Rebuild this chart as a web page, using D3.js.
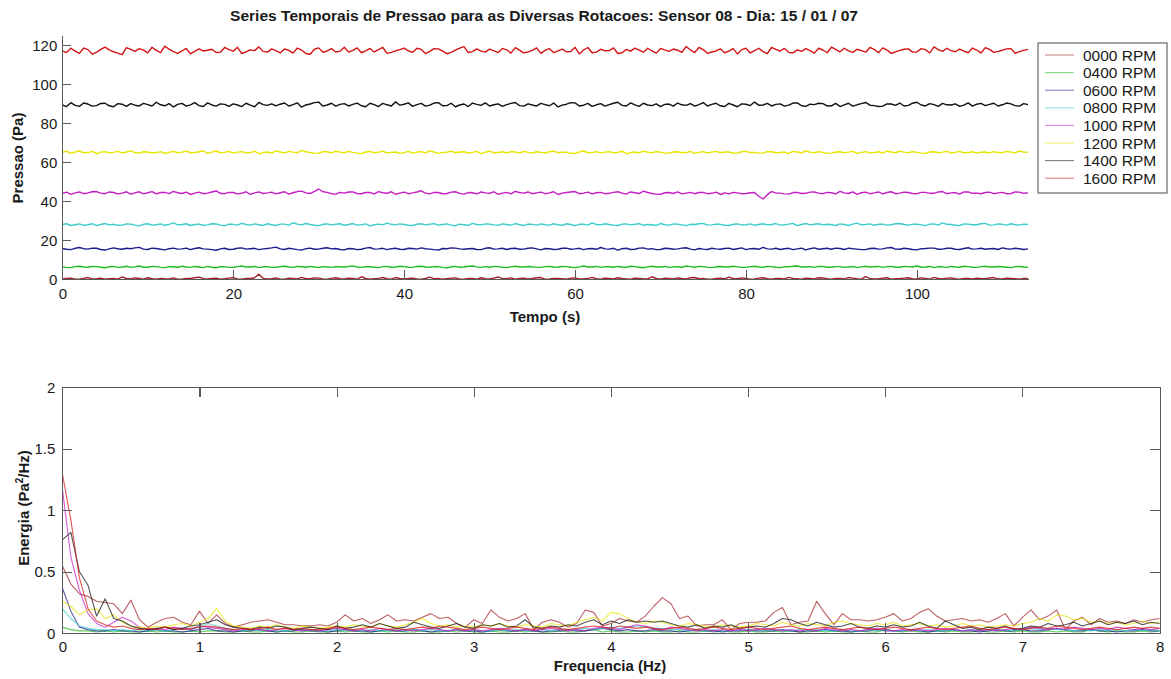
<!DOCTYPE html>
<html>
<head>
<meta charset="utf-8">
<script src="https://cdn.jsdelivr.net/npm/d3@7"></script>
<style>
  html, body { margin: 0; padding: 0; background: #fff; }
  svg { display: block; font-family: "Liberation Sans", Arial, sans-serif; }
  .axis path, .axis line { stroke: #5a5a5a; stroke-width: 1.1; shape-rendering: crispEdges; }
  .axis text { fill: #1a1a1a; font-size: 15px; font-family: "Liberation Sans", Arial, sans-serif; }
</style>
</head>
<body>
<svg id="chart" width="1171" height="679"></svg>
<script>
// ---- rotations (legend labels) ----
const rotacoes = ["0000 RPM", "0400 RPM", "0600 RPM", "0800 RPM", "1000 RPM", "1200 RPM", "1400 RPM", "1600 RPM"];
const cores = ["#a3232a", "#22bb22", "#1c1c8c", "#3ccccc", "#c41ec4", "#e6e600", "#111111", "#d41414"];

// ---- pressure time series, two samples per second (Pa) ----
const dtTempo = 0.5;
const p0000 = [0.2,0.4,0.6,0.0,0.1,0.5,0.9,0.2,0.3,0.6,0.0,0.3,0.5,0.1,1.2,0.4,0.2,0.7,0.4,0.1,
0.8,0.3,0.1,0.5,0.3,0.2,0.7,0.1,0.0,0.4,0.5,0.8,1.1,0.3,0.2,0.5,0.6,0.1,0.3,0.6,
0.9,0.2,0.1,0.4,0.4,0.8,2.6,0.5,0.2,0.3,0.7,0.1,0.0,0.6,0.5,0.2,1.0,0.3,0.3,0.7,
0.6,0.2,0.1,0.5,0.8,0.3,0.2,0.6,0.4,0.1,1.3,0.4,0.0,0.3,0.5,0.9,0.3,0.1,0.9,0.4,
0.2,0.5,0.6,0.2,0.1,0.4,1.1,0.3,0.4,0.0,0.3,0.6,0.7,0.2,0.0,0.5,0.5,0.1,0.8,0.3,
0.2,0.6,1.2,0.3,0.3,0.7,0.1,0.4,0.6,0.2,0.4,0.8,0.9,0.1,0.2,0.5,0.5,0.3,0.0,0.6,
0.7,0.2,0.3,0.5,1.0,0.3,0.1,0.6,0.4,0.2,0.8,0.4,0.2,0.0,0.6,0.5,0.3,0.2,1.3,0.4,
0.1,0.6,0.5,0.2,0.7,0.4,0.2,0.8,0.9,0.3,0.4,0.1,0.0,0.5,0.6,0.2,1.1,0.4,0.3,0.7,
0.5,0.1,0.2,0.6,0.8,0.3,0.1,0.4,0.4,0.2,1.0,0.5,0.3,0.1,0.6,0.4,0.2,0.8,0.7,0.3,
0.0,0.4,0.5,0.2,0.9,0.6,0.3,0.1,1.4,0.5,0.2,0.3,0.6,0.8,0.1,0.3,0.4,0.6,0.8,0.2,
0.3,0.7,0.5,0.1,1.0,0.4,0.2,0.6,0.7,0.3,0.1,0.5,0.4,0.2,0.6,0.4,0.3,0.7,0.9,0.2,
0.2,0.6,0.5,0.3,0.1,0.5,0.4];
const p0400 = [6.4,6.1,6.0,6.5,6.7,6.3,6.2,6.6,6.5,6.2,5.9,6.4,6.6,6.1,6.3,6.7,6.1,6.4,6.8,6.2,
6.2,6.6,6.5,6.1,6.0,6.5,6.4,6.2,6.7,6.3,6.1,6.6,6.3,6.0,6.6,6.2,5.9,6.5,6.4,6.1,
6.2,6.5,6.8,6.3,6.3,6.6,6.0,6.4,6.5,6.1,6.2,6.5,6.7,6.3,6.1,6.6,6.4,6.2,6.6,6.3,
6.0,6.5,6.3,6.1,6.5,6.4,6.2,6.6,6.9,6.3,6.1,6.5,6.4,6.2,6.0,6.5,6.6,6.2,6.3,6.7,
6.5,6.2,6.1,6.6,6.7,6.3,6.2,6.5,6.4,6.1,5.9,6.4,6.6,6.2,6.3,6.7,6.8,6.4,6.1,6.5,
6.2,6.6,6.5,6.2,6.0,6.4,6.7,6.3,6.3,6.6,6.4,6.1,6.1,6.5,6.6,6.3,6.2,6.6,6.5,6.2,
6.0,6.4,6.8,6.3,6.3,6.6,6.1,6.5,6.4,6.2,6.6,6.3,6.2,6.7,6.5,6.2,5.9,6.4,6.7,6.3,
6.3,6.6,6.1,6.4,6.4,6.2,6.8,6.5,6.2,6.6,6.5,6.1,6.0,6.4,6.6,6.3,6.3,6.7,6.4,6.1,
6.1,6.5,6.7,6.3,6.2,6.6,6.5,6.2,6.0,6.4,6.4,6.7,6.8,6.3,6.3,6.5,6.1,6.6,6.6,6.2,
6.2,6.5,6.5,6.1,6.3,6.6,6.0,6.4,6.7,6.3,6.4,6.6,6.1,6.5,6.6,6.2,6.2,6.6,6.5,6.3,
6.8,6.2,6.3,6.6,6.0,6.5,6.4,6.1,6.6,6.3,6.2,6.7,6.5,6.2,6.1,6.5,6.7,6.3,6.3,6.6,
6.4,6.2,6.0,6.5,6.6,6.3,6.2];
const p0600 = [15.8,15.4,15.2,15.9,16.3,15.7,15.5,16.0,15.9,15.3,15.0,15.6,16.1,15.7,15.4,15.9,15.7,16.1,16.4,15.5,
15.3,16.0,15.8,15.4,15.1,15.7,16.0,15.5,15.6,16.0,15.2,15.8,16.2,15.6,15.5,15.2,14.9,15.6,15.9,15.3,
15.4,15.9,16.1,15.5,15.7,15.9,15.2,15.6,15.8,16.1,16.5,15.6,15.3,15.9,15.6,15.2,15.0,15.7,16.0,15.4,
15.5,15.9,16.2,15.6,15.8,15.3,15.1,15.8,15.7,15.2,15.4,16.0,16.3,15.5,15.6,15.9,15.2,15.7,15.9,15.4,
15.3,15.9,15.8,15.5,16.1,15.7,15.5,15.2,15.0,15.8,15.7,16.1,16.0,15.6,15.4,15.7,15.8,15.3,15.2,15.9,
16.2,15.5,15.6,15.9,15.3,15.8,15.9,15.4,15.5,15.9,16.1,15.6,15.1,15.8,15.7,15.3,15.4,15.9,16.0,15.4,
15.6,15.9,15.2,15.7,15.8,15.4,16.3,15.6,15.5,15.9,15.0,15.7,15.9,15.3,15.4,16.0,16.1,15.5,15.7,15.2,
15.3,15.9,15.8,15.4,15.6,16.0,16.2,15.5,15.1,15.8,15.5,15.3,15.9,15.6,15.4,15.8,16.0,15.3,15.7,16.1,
15.2,15.7,15.8,15.4,16.4,15.6,15.5,15.9,15.3,15.7,15.9,15.2,15.6,16.0,15.1,15.7,16.1,15.4,15.7,15.9,
15.4,16.0,15.8,15.3,16.0,15.7,15.5,15.2,15.2,15.8,15.9,15.5,15.6,16.1,16.3,15.5,15.4,15.9,15.7,15.3,
15.1,15.7,15.8,16.0,16.0,15.4,15.5,15.9,15.9,15.4,15.3,15.8,16.2,15.5,15.6,15.9,15.4,15.7,15.8,15.3,
16.1,15.7,15.5,15.9,15.7,15.3,15.6];
const p0800 = [28.1,28.5,27.6,28.0,28.4,27.7,28.0,28.5,27.5,28.1,28.6,27.9,28.2,27.7,27.8,28.4,28.3,27.8,27.4,28.2,
28.5,27.8,28.0,28.4,27.7,28.2,28.9,27.9,28.1,28.5,27.6,28.1,28.3,27.7,27.9,28.5,28.4,27.8,27.5,28.3,
28.2,27.8,28.7,28.1,27.8,28.4,28.0,27.6,28.5,28.0,27.6,28.3,28.3,27.8,29.0,28.3,27.9,28.6,28.1,27.7,
27.5,28.2,28.4,27.9,28.2,28.5,27.7,28.1,28.6,27.8,28.0,28.4,27.4,28.0,28.3,27.9,28.8,28.2,27.9,28.4,
28.1,27.7,27.6,28.3,28.5,27.9,28.2,28.6,27.8,28.1,28.4,27.8,27.5,28.3,28.0,27.7,28.7,28.1,27.9,28.4,
28.3,27.9,27.7,28.4,28.1,27.8,28.6,28.0,27.6,28.3,28.2,27.8,28.4,28.0,27.8,28.5,28.0,27.7,28.5,28.1,
27.5,28.2,28.3,27.8,28.9,28.1,27.9,28.5,28.1,27.8,27.6,28.3,28.4,27.9,28.2,28.6,27.7,28.1,28.0,27.6,
28.6,28.0,27.8,28.4,28.3,27.9,27.5,28.2,28.1,28.5,28.7,27.8,27.9,28.3,28.2,27.7,27.6,28.2,28.4,27.9,
28.0,28.4,27.7,28.1,28.5,27.9,28.1,28.6,27.8,28.0,28.3,28.7,27.5,28.1,28.6,27.9,28.2,28.5,27.9,28.2,
28.0,27.6,28.4,28.1,27.6,28.3,28.8,27.9,28.1,28.4,27.7,28.2,28.3,27.8,28.0,28.5,28.6,28.1,27.8,28.3,
28.2,27.9,27.5,28.3,28.4,27.8,28.9,28.2,28.1,27.7,27.6,28.4,28.3,28.0,28.0,28.5,28.7,27.8,27.9,28.4,
28.2,27.8,28.5,28.0,27.8,28.3,28.1];
const p1000 = [44.1,44.7,43.6,44.3,44.8,43.9,44.3,44.9,45.0,44.2,43.9,44.8,44.5,43.8,44.2,44.9,43.7,44.3,44.9,43.8,
44.4,45.0,43.8,44.5,44.6,43.9,45.1,44.4,44.0,44.7,43.5,44.2,44.7,43.9,44.2,44.8,45.3,44.1,43.9,44.6,
44.5,43.8,44.1,44.9,43.6,44.3,44.8,44.0,44.3,44.7,43.8,44.4,44.9,43.7,44.4,45.0,45.2,44.3,44.0,45.1,
46.3,44.9,44.6,43.9,43.7,44.6,44.2,44.8,44.8,44.0,43.9,44.5,44.5,43.8,45.0,44.4,44.1,44.9,43.6,44.2,
44.7,43.9,44.3,44.8,45.4,44.2,43.8,44.6,44.5,43.9,44.0,44.7,44.9,44.1,43.7,44.5,44.4,43.8,44.8,44.3,
44.1,44.9,43.6,44.2,44.6,43.8,45.1,44.5,44.2,44.8,43.9,44.3,44.7,43.9,44.3,44.9,43.5,44.2,44.5,44.8,
45.0,43.9,44.2,44.7,43.8,44.4,44.6,43.9,44.1,44.6,44.9,44.2,43.7,44.8,44.4,44.0,45.2,44.5,44.0,43.7,
43.6,44.4,44.5,44.0,44.8,43.8,44.2,44.6,43.9,44.5,44.6,43.9,44.1,44.7,43.5,44.3,43.8,44.6,44.3,43.9,
44.0,44.4,44.5,42.6,41.2,43.4,45.0,44.3,44.2,43.8,43.7,44.5,44.6,44.0,44.1,44.7,44.8,44.2,43.9,44.6,
44.4,43.8,45.1,44.3,44.0,44.8,43.6,44.4,44.7,43.9,44.3,44.8,43.8,44.5,44.9,43.9,44.2,44.7,44.5,44.0,
43.9,44.6,44.6,44.1,44.1,44.8,45.0,43.9,44.3,44.5,43.7,44.8,44.8,44.1,44.2,43.9,44.5,44.7,43.9,44.3,
44.6,43.9,44.0,44.8,44.7,44.1,44.3];
const p1200 = [65.2,65.7,64.6,65.3,65.8,64.9,65.0,65.6,64.4,65.2,65.5,64.8,65.1,65.6,64.8,65.3,65.9,65.0,64.7,65.4,
65.3,64.8,65.0,65.5,64.5,65.1,65.6,64.9,65.2,65.7,64.9,65.0,65.4,65.8,64.6,65.2,65.8,64.9,65.1,65.6,
64.7,65.2,65.5,64.8,65.0,65.7,64.4,65.0,65.3,64.7,65.9,65.3,64.8,65.6,65.2,64.9,66.1,65.4,65.0,64.7,
64.6,65.5,65.4,64.8,65.7,65.2,64.9,65.6,65.1,64.7,64.5,65.3,65.6,64.9,65.2,65.7,64.8,65.1,65.3,64.6,
65.0,65.6,64.7,65.2,65.5,64.8,65.9,65.3,64.6,65.0,65.2,65.7,64.9,65.3,65.4,64.8,65.1,65.6,64.5,65.2,
65.7,64.9,65.0,65.4,64.8,65.5,65.3,64.7,65.6,65.1,64.7,65.4,65.1,64.8,65.4,65.7,64.9,65.2,65.2,64.6,
64.6,65.3,65.8,64.9,65.0,65.5,64.7,65.2,65.5,64.8,65.1,65.7,64.4,65.0,65.3,64.8,65.7,65.2,64.9,65.5,
65.2,64.7,64.8,65.3,65.4,64.9,65.0,65.6,64.6,65.1,65.5,64.8,65.2,65.6,64.9,65.3,65.3,64.7,64.7,65.4,
65.6,65.0,65.1,64.7,64.8,65.5,65.4,64.9,65.0,65.3,64.5,65.6,65.3,64.8,65.8,65.2,64.9,65.5,65.1,64.6,
64.7,65.3,65.4,64.9,65.2,65.6,64.6,65.1,65.5,64.8,65.0,65.4,64.8,65.7,65.3,64.9,65.7,65.2,64.9,65.5,
65.1,64.7,64.6,65.3,65.4,64.9,65.2,65.6,64.8,65.1,65.6,64.9,65.0,65.4,64.7,65.2,65.3,64.8,65.5,65.0,
64.9,65.6,65.2,64.8,65.8,65.3,65.1];
const p1400 = [89.4,88.6,90.6,89.2,88.7,90.4,89.9,88.8,89.1,90.2,90.3,89.0,88.5,90.1,89.8,88.7,90.1,89.3,88.9,90.2,
89.6,88.9,90.8,89.5,89.0,90.1,88.4,89.7,90.2,88.8,89.5,90.6,89.1,88.6,90.5,89.4,88.8,90.0,89.7,88.7,
90.0,89.4,88.6,90.3,89.3,88.5,90.7,89.6,89.2,90.0,88.9,89.8,90.4,88.9,89.6,90.5,88.3,89.4,89.9,90.6,
90.9,88.8,89.4,90.3,88.8,89.7,90.1,88.9,89.7,90.4,89.0,88.5,90.3,89.6,88.6,90.2,89.5,88.9,91.0,89.3,
89.8,90.5,88.7,89.6,90.2,88.8,89.3,90.4,90.6,89.0,89.1,90.3,88.5,89.4,89.9,88.6,90.4,89.7,89.2,90.5,
88.9,89.5,90.0,88.7,89.6,90.2,90.7,89.1,88.8,90.0,89.4,88.9,90.2,89.6,89.0,90.4,88.4,89.3,89.8,90.6,
90.5,88.9,89.3,90.2,88.7,89.5,90.1,88.8,89.6,90.3,90.8,89.2,88.9,90.5,89.5,88.7,90.3,89.4,89.1,90.0,
88.6,89.7,89.9,88.8,90.4,89.5,89.2,90.1,88.8,89.6,90.6,88.9,89.7,90.3,89.0,88.6,90.2,89.4,88.5,90.0,
89.8,89.1,90.9,89.3,89.4,90.2,88.9,89.7,90.0,88.8,89.3,90.4,90.5,89.0,88.7,89.8,89.6,90.3,90.1,88.9,
89.0,90.2,88.6,89.5,90.3,88.8,89.5,90.1,90.7,89.3,89.1,88.6,88.8,90.0,89.9,89.2,90.4,88.9,89.2,90.3,
90.8,89.4,88.9,90.1,89.6,88.7,90.2,89.5,89.4,90.0,88.7,89.3,90.5,88.8,89.8,90.2,89.1,89.7,90.3,88.9,
89.5,90.4,90.0,89.1,88.8,90.1,89.6];
const p1600 = [117.2,116.3,118.5,117.0,115.9,118.6,117.8,115.5,116.4,117.9,119.1,117.7,116.7,116.0,115.2,118.8,117.9,116.9,118.3,117.5,
116.1,119.0,117.4,116.2,119.6,118.0,116.8,115.9,117.1,118.4,115.6,116.9,118.2,117.1,117.5,118.0,116.3,116.5,118.9,117.8,
117.0,119.0,115.8,116.6,117.7,117.3,119.2,116.9,116.5,118.2,117.3,116.1,118.1,117.4,116.0,118.6,117.6,115.8,115.4,118.0,
118.7,116.4,117.1,118.3,116.6,117.0,119.0,116.5,117.4,118.7,116.2,117.2,118.4,116.6,117.8,118.9,115.9,116.4,117.2,117.8,
118.6,117.1,116.4,118.5,117.9,115.8,116.9,118.3,118.2,117.0,115.7,116.4,117.5,118.6,119.3,116.3,116.8,118.2,117.0,116.5,
118.1,117.2,116.3,118.4,117.7,116.0,118.8,117.5,116.1,116.6,117.4,118.7,115.9,117.4,118.3,116.3,117.2,118.1,116.7,116.8,
119.0,115.6,117.6,118.9,116.2,116.5,118.0,117.2,117.3,118.7,115.8,116.2,117.9,117.0,118.6,117.6,116.5,118.5,117.1,116.0,
118.4,117.7,116.9,118.1,117.5,116.4,119.4,117.6,116.3,118.9,117.8,115.9,116.6,117.1,118.2,116.2,117.0,118.3,115.6,117.8,
118.5,116.1,117.3,118.5,116.8,115.8,118.9,117.9,117.1,118.4,116.4,116.1,117.7,116.9,118.3,117.3,116.0,118.5,117.6,116.2,
119.1,117.9,116.7,118.5,117.2,116.4,118.0,117.3,116.5,118.9,117.9,116.2,118.7,117.6,115.9,116.6,117.4,118.0,118.2,116.5,
116.6,118.3,117.8,116.1,119.2,117.8,116.9,118.5,117.3,116.7,118.1,117.0,116.2,118.6,117.6,116.1,118.8,117.9,116.4,116.9,
117.5,118.2,118.3,115.9,116.8,117.4,117.9];

// ---- energy spectra, 1/16 Hz resolution (Pa^2/Hz) ----
const dfFreq = 0.0625;
const e0000 = [0.55,0.40,0.32,0.30,0.26,0.25,0.24,0.16,0.27,0.11,0.05,0.09,0.12,0.13,0.09,0.07,0.18,0.08,0.15,0.08,0.05,0.07,0.09,0.10,0.11,0.09,0.07,0.07,0.06,0.06,0.07,0.06,0.09,0.15,0.10,0.12,0.08,0.11,0.15,0.10,0.11,0.10,0.13,0.16,0.12,0.13,0.08,0.05,0.11,0.08,0.19,0.13,0.10,0.12,0.16,0.03,0.09,0.11,0.09,0.05,0.08,0.19,0.17,0.06,0.08,0.12,0.10,0.09,0.14,0.22,0.29,0.24,0.12,0.14,0.06,0.07,0.07,0.11,0.03,0.08,0.09,0.09,0.10,0.17,0.21,0.07,0.09,0.10,0.26,0.16,0.07,0.16,0.11,0.11,0.10,0.11,0.13,0.16,0.10,0.12,0.17,0.20,0.14,0.10,0.11,0.12,0.10,0.11,0.09,0.12,0.16,0.06,0.13,0.19,0.11,0.14,0.19,0.03,0.10,0.13,0.07,0.12,0.09,0.10,0.08,0.11,0.09,0.11,0.12];
const e0400 = [0.05,0.03,0.02,0.02,0.01,0.02,0.01,0.02,0.01,0.01,0.02,0.01,0.02,0.01,0.01,0.02,0.01,0.02,0.02,0.01,0.01,0.02,0.01,0.01,0.02,0.01,0.02,0.01,0.01,0.02,0.01,0.01,0.02,0.01,0.02,0.01,0.01,0.02,0.01,0.02,0.01,0.01,0.02,0.01,0.01,0.02,0.01,0.02,0.01,0.01,0.02,0.01,0.01,0.02,0.01,0.02,0.01,0.01,0.02,0.01,0.01,0.02,0.03,0.01,0.02,0.01,0.01,0.02,0.01,0.02,0.01,0.01,0.02,0.01,0.01,0.02,0.01,0.02,0.01,0.01,0.02,0.01,0.01,0.02,0.01,0.02,0.01,0.01,0.02,0.01,0.02,0.01,0.01,0.02,0.01,0.01,0.03,0.02,0.01,0.02,0.01,0.01,0.02,0.01,0.02,0.01,0.01,0.02,0.01,0.01,0.02,0.01,0.02,0.01,0.01,0.02,0.01,0.02,0.01,0.01,0.03,0.02,0.01,0.02,0.01,0.01,0.02,0.01,0.02];
const e0600 = [0.37,0.18,0.05,0.03,0.02,0.02,0.03,0.02,0.02,0.01,0.02,0.03,0.02,0.02,0.01,0.02,0.03,0.04,0.02,0.02,0.01,0.02,0.02,0.03,0.02,0.01,0.02,0.02,0.03,0.02,0.02,0.01,0.02,0.03,0.02,0.02,0.01,0.02,0.03,0.02,0.02,0.03,0.02,0.01,0.02,0.02,0.03,0.02,0.02,0.01,0.02,0.03,0.02,0.02,0.03,0.02,0.01,0.02,0.02,0.03,0.02,0.02,0.03,0.04,0.03,0.02,0.03,0.02,0.02,0.03,0.02,0.02,0.01,0.02,0.03,0.02,0.02,0.01,0.02,0.02,0.03,0.02,0.02,0.02,0.03,0.02,0.01,0.02,0.02,0.03,0.02,0.02,0.01,0.02,0.02,0.03,0.02,0.02,0.02,0.03,0.02,0.01,0.02,0.02,0.03,0.02,0.02,0.01,0.02,0.03,0.02,0.02,0.03,0.02,0.02,0.03,0.04,0.03,0.02,0.02,0.03,0.02,0.02,0.01,0.02,0.02,0.03,0.02,0.02];
const e0800 = [0.20,0.12,0.06,0.04,0.03,0.03,0.02,0.03,0.02,0.03,0.02,0.03,0.02,0.03,0.04,0.03,0.05,0.08,0.06,0.04,0.03,0.02,0.03,0.02,0.03,0.02,0.02,0.03,0.02,0.03,0.02,0.02,0.03,0.02,0.03,0.02,0.03,0.02,0.02,0.03,0.02,0.03,0.02,0.03,0.02,0.02,0.03,0.02,0.03,0.02,0.02,0.03,0.02,0.03,0.02,0.02,0.03,0.02,0.03,0.02,0.03,0.04,0.03,0.04,0.05,0.04,0.05,0.06,0.05,0.04,0.04,0.03,0.03,0.02,0.03,0.02,0.03,0.02,0.02,0.03,0.02,0.03,0.02,0.03,0.02,0.02,0.03,0.02,0.03,0.02,0.02,0.03,0.02,0.02,0.03,0.02,0.03,0.02,0.02,0.03,0.02,0.03,0.02,0.02,0.03,0.02,0.03,0.02,0.03,0.02,0.03,0.02,0.03,0.04,0.03,0.04,0.03,0.03,0.02,0.03,0.02,0.03,0.02,0.03,0.02,0.03,0.02,0.03,0.02];
const e1000 = [1.18,0.62,0.35,0.16,0.08,0.05,0.09,0.13,0.10,0.05,0.03,0.04,0.03,0.05,0.04,0.03,0.06,0.05,0.04,0.03,0.02,0.03,0.04,0.03,0.02,0.03,0.04,0.03,0.02,0.03,0.02,0.03,0.04,0.03,0.02,0.03,0.02,0.04,0.03,0.02,0.03,0.02,0.03,0.04,0.03,0.02,0.03,0.02,0.03,0.02,0.03,0.04,0.03,0.02,0.03,0.02,0.03,0.04,0.03,0.02,0.03,0.02,0.04,0.05,0.04,0.03,0.05,0.07,0.06,0.04,0.03,0.05,0.04,0.03,0.02,0.03,0.02,0.03,0.02,0.03,0.02,0.03,0.04,0.03,0.02,0.03,0.02,0.03,0.02,0.04,0.03,0.02,0.03,0.02,0.03,0.04,0.03,0.02,0.03,0.02,0.03,0.02,0.03,0.04,0.03,0.02,0.03,0.02,0.03,0.02,0.03,0.04,0.03,0.05,0.04,0.03,0.04,0.03,0.05,0.04,0.03,0.04,0.03,0.05,0.04,0.03,0.04,0.03,0.04];
const e1200 = [0.26,0.22,0.15,0.19,0.20,0.12,0.15,0.09,0.06,0.05,0.04,0.06,0.05,0.07,0.08,0.06,0.09,0.12,0.20,0.10,0.06,0.05,0.04,0.06,0.05,0.07,0.05,0.04,0.06,0.05,0.04,0.05,0.06,0.05,0.07,0.06,0.05,0.08,0.06,0.05,0.07,0.09,0.12,0.08,0.06,0.07,0.05,0.06,0.05,0.07,0.06,0.08,0.06,0.05,0.07,0.06,0.05,0.08,0.07,0.06,0.09,0.11,0.13,0.10,0.17,0.16,0.12,0.09,0.08,0.10,0.09,0.07,0.06,0.08,0.07,0.06,0.05,0.07,0.06,0.05,0.06,0.08,0.07,0.06,0.09,0.07,0.06,0.08,0.07,0.06,0.09,0.10,0.08,0.07,0.06,0.08,0.07,0.09,0.06,0.07,0.08,0.06,0.07,0.05,0.06,0.08,0.06,0.07,0.05,0.06,0.07,0.06,0.08,0.09,0.12,0.10,0.15,0.14,0.11,0.12,0.09,0.10,0.08,0.09,0.07,0.08,0.10,0.08,0.09];
const e1400 = [0.76,0.82,0.50,0.39,0.14,0.28,0.12,0.10,0.06,0.04,0.03,0.04,0.05,0.03,0.04,0.06,0.07,0.09,0.11,0.07,0.05,0.04,0.03,0.05,0.04,0.06,0.05,0.03,0.04,0.05,0.04,0.03,0.06,0.04,0.05,0.07,0.05,0.08,0.06,0.04,0.05,0.09,0.07,0.05,0.04,0.06,0.08,0.05,0.04,0.07,0.06,0.08,0.05,0.06,0.11,0.05,0.04,0.06,0.05,0.07,0.06,0.09,0.11,0.07,0.10,0.08,0.11,0.09,0.10,0.09,0.10,0.08,0.06,0.05,0.07,0.04,0.06,0.05,0.07,0.04,0.05,0.06,0.05,0.08,0.12,0.11,0.08,0.06,0.09,0.07,0.05,0.06,0.08,0.05,0.04,0.06,0.05,0.07,0.05,0.06,0.09,0.06,0.04,0.10,0.07,0.04,0.05,0.03,0.05,0.04,0.06,0.03,0.04,0.06,0.05,0.08,0.06,0.07,0.09,0.06,0.08,0.10,0.07,0.09,0.08,0.10,0.07,0.09,0.08];
const e1600 = [1.30,0.92,0.45,0.20,0.10,0.07,0.05,0.06,0.04,0.03,0.04,0.03,0.05,0.04,0.03,0.04,0.05,0.06,0.05,0.04,0.03,0.04,0.03,0.04,0.05,0.03,0.04,0.03,0.04,0.03,0.03,0.04,0.05,0.04,0.03,0.04,0.05,0.04,0.03,0.04,0.03,0.04,0.05,0.04,0.06,0.05,0.04,0.03,0.04,0.05,0.04,0.03,0.04,0.05,0.04,0.03,0.04,0.05,0.04,0.03,0.04,0.05,0.06,0.05,0.04,0.06,0.05,0.04,0.05,0.04,0.03,0.04,0.05,0.04,0.03,0.04,0.05,0.04,0.03,0.04,0.05,0.04,0.03,0.04,0.05,0.06,0.04,0.03,0.04,0.05,0.04,0.03,0.04,0.05,0.04,0.03,0.04,0.05,0.04,0.03,0.04,0.05,0.04,0.03,0.04,0.05,0.06,0.04,0.03,0.04,0.05,0.04,0.03,0.04,0.05,0.04,0.06,0.05,0.04,0.03,0.04,0.05,0.04,0.03,0.04,0.05,0.04,0.05,0.04];

// ---- axis ticks ----
const ticksPressao = [0, 20, 40, 60, 80, 100, 120];
const ticksTempo = [0, 20, 40, 60, 80, 100];
const ticksEnergia = [0, 0.5, 1, 1.5, 2];
const ticksFreq = [0, 1, 2, 3, 4, 5, 6, 7, 8];

const pressoes = [p0000, p0400, p0600, p0800, p1000, p1200, p1400, p1600];
const energias = [e0000, e0400, e0600, e0800, e1000, e1200, e1400, e1600];

const svg = d3.select("#chart");

// title
svg.append("text")
  .attr("x", 544).attr("y", 21)
  .attr("text-anchor", "middle")
  .attr("textLength", 628).attr("lengthAdjust", "spacingAndGlyphs")
  .style("font-size", "14px").style("font-weight", "bold").style("fill", "#1a1a1a")
  .text("Series Temporais de Pressao para as Diversas Rotacoes: Sensor 08 - Dia: 15 / 01 / 07");

// ===== upper panel: pressure vs time =====
const xT = d3.scaleLinear().domain([0, 113]).range([62.3, 1028]);
const yP = d3.scaleLinear().domain([0, 125.3]).range([279.3, 35]);

const gTop = svg.append("g");
const linhaP = d3.line()
  .x((d, i) => xT(i * dtTempo))
  .y(d => yP(d));

gTop.selectAll("path.serie")
  .data(pressoes)
  .join("path")
  .attr("class", "serie")
  .attr("d", d => linhaP(d))
  .attr("fill", "none")
  .attr("stroke", (d, i) => cores[i])
  .attr("stroke-width", 1.4)
  .attr("stroke-linejoin", "round");

gTop.append("g").attr("class", "axis")
  .attr("transform", `translate(0,${yP(0)})`)
  .call(d3.axisBottom(xT).tickValues(ticksTempo).tickSizeInner(-9).tickSizeOuter(0).tickPadding(9).tickFormat(d3.format("d")));
gTop.append("g").attr("class", "axis")
  .attr("transform", `translate(${xT(0)},0)`)
  .call(d3.axisLeft(yP).tickValues(ticksPressao).tickSizeInner(-9).tickSizeOuter(0).tickPadding(5).tickFormat(d3.format("d")));

svg.append("text")
  .attr("x", 545).attr("y", 322)
  .attr("text-anchor", "middle")
  .style("font-size", "15px").style("font-weight", "bold").style("fill", "#1a1a1a")
  .text("Tempo (s)");
svg.append("text")
  .attr("transform", "translate(23,158) rotate(-90)")
  .attr("text-anchor", "middle")
  .style("font-size", "15px").style("font-weight", "bold").style("fill", "#1a1a1a")
  .text("Pressao (Pa)");

// legend
const leg = svg.append("g").attr("transform", "translate(1038,43)");
leg.append("rect")
  .attr("width", 129).attr("height", 150)
  .attr("fill", "#fff").attr("stroke", "#5a5a5a").attr("stroke-width", 1.1);
const itens = leg.selectAll("g.item").data(rotacoes).join("g")
  .attr("class", "item")
  .attr("transform", (d, i) => `translate(0,${12 + i * 17.6})`);
itens.append("line")
  .attr("x1", 7).attr("x2", 36).attr("y1", 0).attr("y2", 0)
  .attr("stroke", (d, i) => cores[i]).attr("stroke-width", 1.1).attr("stroke-opacity", 0.55);
itens.append("text")
  .attr("x", 45).attr("y", 5.5)
  .style("font-size", "15.5px").style("fill", "#1a1a1a")
  .text(d => d);

// ===== lower panel: energy spectrum =====
const xF = d3.scaleLinear().domain([0, 8]).range([62.3, 1159.6]);
const yE = d3.scaleLinear().domain([0, 2]).range([633.3, 387.3]);

const gBot = svg.append("g");
const linhaE = d3.line()
  .x((d, i) => xF(i * dfFreq))
  .y(d => yE(d));

gBot.selectAll("path.espectro")
  .data(energias)
  .join("path")
  .attr("class", "espectro")
  .attr("d", d => linhaE(d))
  .attr("fill", "none")
  .attr("stroke", (d, i) => cores[i])
  .attr("stroke-opacity", 0.72)
  .attr("stroke-width", 1.1)
  .attr("stroke-linejoin", "round");

gBot.append("g").attr("class", "axis")
  .attr("transform", `translate(0,${yE(0)})`)
  .call(d3.axisBottom(xF).tickValues(ticksFreq).tickSizeInner(-10).tickSizeOuter(0).tickPadding(8).tickFormat(d3.format("d")));
gBot.append("g").attr("class", "axis")
  .attr("transform", `translate(0,${yE(2)})`)
  .call(d3.axisTop(xF).tickValues(ticksFreq).tickSizeInner(-10).tickSizeOuter(0).tickFormat(""));
gBot.append("g").attr("class", "axis")
  .attr("transform", `translate(${xF(0)},0)`)
  .call(d3.axisLeft(yE).tickValues(ticksEnergia).tickSizeInner(-10).tickSizeOuter(0).tickPadding(7).tickFormat(d => d3.format("~g")(d)));
gBot.append("g").attr("class", "axis")
  .attr("transform", `translate(${xF(8)},0)`)
  .call(d3.axisRight(yE).tickValues(ticksEnergia).tickSizeInner(-10).tickSizeOuter(0).tickFormat(""));

svg.append("text")
  .attr("x", 610).attr("y", 671)
  .attr("text-anchor", "middle")
  .style("font-size", "15px").style("font-weight", "bold").style("fill", "#1a1a1a")
  .text("Frequencia (Hz)");
const rotuloE = svg.append("text")
  .attr("transform", "translate(29,508) rotate(-90)")
  .attr("text-anchor", "middle")
  .style("font-size", "15px").style("font-weight", "bold").style("fill", "#1a1a1a");
rotuloE.append("tspan").text("Energia (Pa");
rotuloE.append("tspan").attr("dy", -6).style("font-size", "10px").text("2");
rotuloE.append("tspan").attr("dy", 6).text("/Hz)");
</script>
</body>
</html>
